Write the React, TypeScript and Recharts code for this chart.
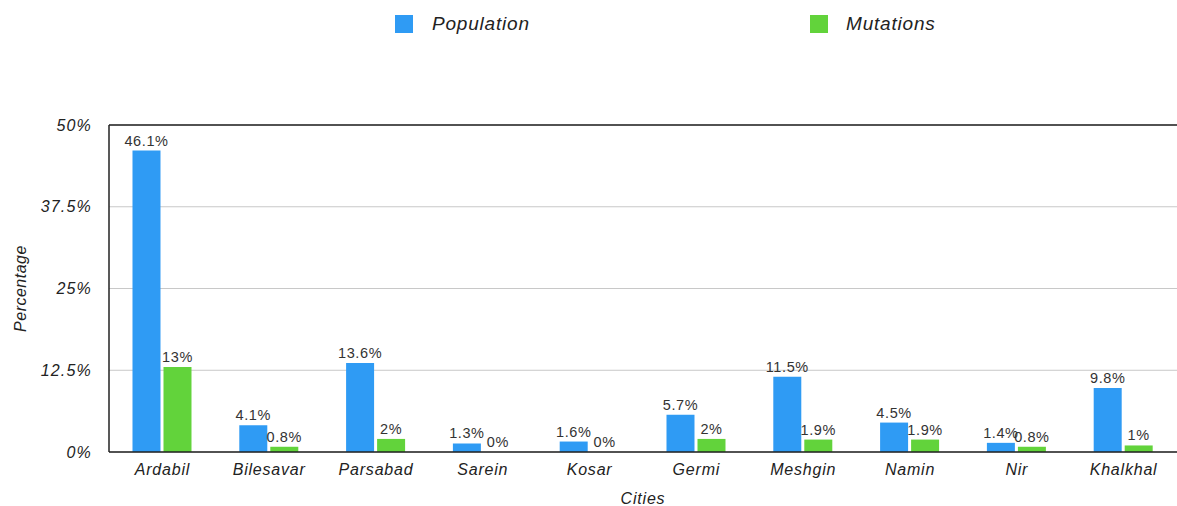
import React from "react";
import { BarChart, Bar, XAxis, YAxis, CartesianGrid, ReferenceLine, LabelList, Label } from "recharts";

const cities = ["Ardabil", "Bilesavar", "Parsabad", "Sarein", "Kosar", "Germi", "Meshgin", "Namin", "Nir", "Khalkhal"];
const population = [46.1, 4.1, 13.6, 1.3, 1.6, 5.7, 11.5, 4.5, 1.4, 9.8];
const mutations = [13, 0.8, 2, 0, 0, 2, 1.9, 1.9, 0.8, 1];
const yTicks = [0, 12.5, 25, 37.5, 50];

const BLUE = "#2f9bf4";
const GREEN = "#62d33b";
const FONT = "'Liberation Sans', Arial, Helvetica, sans-serif";

const data = cities.map((c, i) => ({ city: c, population: population[i], mutations: mutations[i] }));

const fmt = (v: number) => `${v}%`;

export default function App() {
  return (
    <div style={{ position: "absolute", left: 0, top: 0, width: 1177, height: 506, background: "#fff", fontFamily: FONT }}>
      <div style={{ position: "absolute", left: 395, top: 15, width: 18, height: 18, background: BLUE }} />
      <div style={{ position: "absolute", left: 432, top: 12, fontSize: 19, fontStyle: "italic", color: "#222", letterSpacing: 0.8, lineHeight: "24px" }}>Population</div>
      <div style={{ position: "absolute", left: 810, top: 15, width: 18, height: 18, background: GREEN }} />
      <div style={{ position: "absolute", left: 846, top: 12, fontSize: 19, fontStyle: "italic", color: "#222", letterSpacing: 0.8, lineHeight: "24px" }}>Mutations</div>
      <BarChart
        width={1177}
        height={506}
        data={data}
        margin={{ top: 125, right: 0, left: 0, bottom: 0 }}
        barCategoryGap="22%"
        barGap={3}
      >
        <CartesianGrid vertical={false} stroke="#c8c8c8" strokeWidth={1} />
        <XAxis
          dataKey="city"
          height={54}
          tickLine={false}
          tickSize={0}
          tickMargin={12}
          axisLine={{ stroke: "#222", strokeWidth: 1.5 }}
          tick={{ fontSize: 16, fontStyle: "italic", fill: "#222", fontFamily: FONT, letterSpacing: 0.8 }}
          interval={0}
        >
          <Label value="Cities" position="insideBottom" offset={2} style={{ fontSize: 16, fontStyle: "italic", fill: "#222", fontFamily: FONT, letterSpacing: 0.8 }} />
        </XAxis>
        <YAxis
          width={109}
          domain={[0, 50]}
          ticks={yTicks}
          tickFormatter={fmt}
          tickLine={false}
          tickSize={0}
          tickMargin={17}
          axisLine={{ stroke: "#222", strokeWidth: 1.5 }}
          tick={{ fontSize: 16, fontStyle: "italic", fill: "#222", fontFamily: FONT, letterSpacing: 1.2 }}
        >
          <Label
            content={(props: any) => {
              const vb = props.viewBox || {};
              const cy = (vb.y || 0) + (vb.height || 0) / 2;
              return (
                <text x={20} y={cy} transform={`rotate(-90 20 ${cy})`} textAnchor="middle" dominantBaseline="central" fontSize={16} fontStyle="italic" fill="#222" fontFamily={FONT} letterSpacing={0.5}>
                  Percentage
                </text>
              );
            }}
          />
        </YAxis>
        <ReferenceLine y={50} stroke="#222" strokeWidth={1.5} />
        <Bar dataKey="population" fill={BLUE} isAnimationActive={false} minPointSize={0.01}>
          <LabelList dataKey="population" position="top" offset={5} formatter={(v: any) => `${v}%`} style={{ fontSize: 14.5, fill: "#333", fontFamily: FONT, letterSpacing: 0.6 }} />
        </Bar>
        <Bar dataKey="mutations" fill={GREEN} isAnimationActive={false} minPointSize={0.01}>
          <LabelList dataKey="mutations" position="top" offset={5} formatter={(v: any) => `${v}%`} style={{ fontSize: 14.5, fill: "#333", fontFamily: FONT, letterSpacing: 0.6 }} />
        </Bar>
      </BarChart>
    </div>
  );
}
